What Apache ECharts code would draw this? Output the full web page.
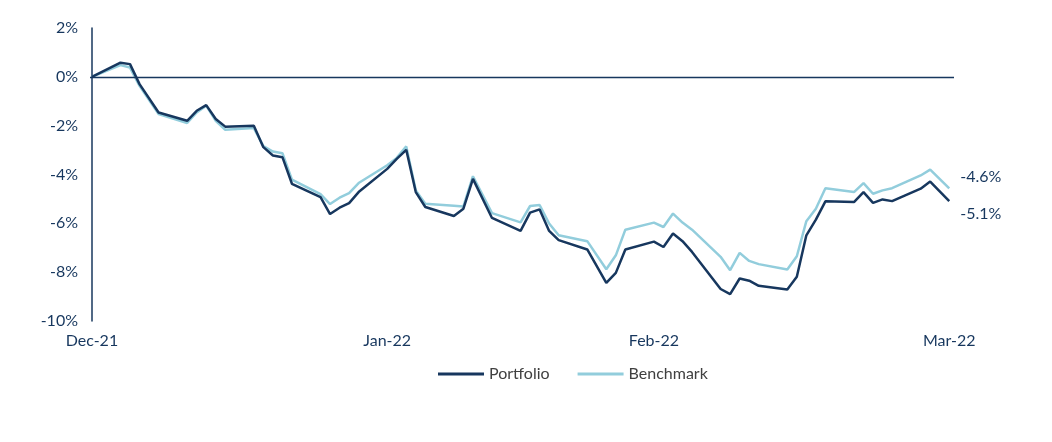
<!DOCTYPE html>
<html>
<head>
<meta charset="utf-8">
<title>Portfolio vs Benchmark</title>
<script src="https://cdn.jsdelivr.net/npm/echarts@6/dist/echarts.min.js"></script>
<style>
  html, body { margin: 0; padding: 0; background: #fff; }
  #chart { width: 1052px; height: 442px; }
</style>
</head>
<body>
<div id="chart"></div>
<script>
// trading days that show a vertex on the lines
const dates = [
  '2021-12-31', '2022-01-03', '2022-01-04', '2022-01-05', '2022-01-07',
  '2022-01-10', '2022-01-11', '2022-01-12', '2022-01-13', '2022-01-14',
  '2022-01-17', '2022-01-18', '2022-01-19', '2022-01-20', '2022-01-21',
  '2022-01-24', '2022-01-25', '2022-01-26', '2022-01-27', '2022-01-28',
  '2022-01-31', '2022-02-01', '2022-02-02', '2022-02-03', '2022-02-04',
  '2022-02-07', '2022-02-08', '2022-02-09', '2022-02-11', '2022-02-14',
  '2022-02-15', '2022-02-16', '2022-02-17', '2022-02-18', '2022-02-21',
  '2022-02-23', '2022-02-24', '2022-02-25', '2022-02-28', '2022-03-01',
  '2022-03-02', '2022-03-03', '2022-03-04', '2022-03-07', '2022-03-08',
  '2022-03-09', '2022-03-10', '2022-03-11', '2022-03-14', '2022-03-15',
  '2022-03-16', '2022-03-17', '2022-03-18', '2022-03-21', '2022-03-22',
  '2022-03-23', '2022-03-24', '2022-03-25', '2022-03-28', '2022-03-29',
  '2022-03-31'
];

// cumulative return, %
const portfolio = [
  0, 0.58, 0.52, -0.30, -1.46,
  -1.80, -1.39, -1.16, -1.73, -2.04,
  -2.00, -2.88, -3.22, -3.29, -4.38,
  -4.93, -5.62, -5.36, -5.17, -4.72,
  -3.77, -3.36, -2.99, -4.72, -5.33,
  -5.70, -5.40, -4.18, -5.78, -6.31,
  -5.56, -5.43, -6.31, -6.69, -7.07,
  -8.44, -8.03, -7.07, -6.75, -6.97,
  -6.42, -6.73, -7.17, -8.69, -8.90,
  -8.26, -8.35, -8.56, -8.71, -8.19,
  -6.49, -5.85, -5.10, -5.13, -4.72,
  -5.16, -5.02, -5.09, -4.58, -4.29,
  -5.09
];

const benchmark = [
  0, 0.48, 0.38, -0.37, -1.52,
  -1.89, -1.46, -1.18, -1.80, -2.17,
  -2.10, -2.84, -3.06, -3.13, -4.21,
  -4.80, -5.21, -4.95, -4.76, -4.35,
  -3.62, -3.32, -2.85, -4.65, -5.20,
  -5.28, -5.31, -4.07, -5.58, -5.96,
  -5.29, -5.25, -6.01, -6.49, -6.73,
  -7.88, -7.31, -6.26, -5.97, -6.15,
  -5.60, -5.97, -6.26, -7.37, -7.92,
  -7.21, -7.54, -7.67, -7.89, -7.35,
  -5.91, -5.40, -4.56, -4.72, -4.35,
  -4.79, -4.65, -4.56, -4.04, -3.80,
  -4.57
];

// month-end ticks on the date axis
const tickDates = ['2021-12-31', '2022-01-31', '2022-02-28', '2022-03-31'];
const tickLabels = ['Dec-21', 'Jan-22', 'Feb-22', 'Mar-22'];

const yTicks = { min: -10, max: 2, step: 2 };

const NAVY = '#17375e';
const LIGHT = '#92cddc';
const FONT = 'Lato';

// x is measured in calendar days from the first date
const DAY = 24 * 3600 * 1000;
const t0 = Date.parse(dates[0] + 'T00:00:00Z');
const dayNo = s => Math.round((Date.parse(s + 'T00:00:00Z') - t0) / DAY);
const tickDays = tickDates.map(dayNo);

function pairs(values) {
  return dates.map((d, i) => [dayNo(d), values[i]]);
}

const chart = echarts.init(document.getElementById('chart'), null, { renderer: 'canvas' });

chart.setOption({
  animation: false,
  textStyle: { fontFamily: FONT },
  grid: { left: 90, right: 98, top: 28, bottom: 121, containLabel: false },
  legend: {
    left: 433,
    top: 361,
    itemWidth: 46,
    itemHeight: 3,
    itemGap: 28,
    icon: 'rect',
    textStyle: { color: '#404040', fontSize: 16, fontFamily: FONT },
    data: ['Portfolio', 'Benchmark']
  },
  xAxis: {
    type: 'value',
    min: -0.2,
    max: tickDays[tickDays.length - 1] + 0.5,
    axisLine: { show: false },
    axisTick: { show: false },
    splitLine: { show: false },
    axisLabel: {
      customValues: tickDays,
      margin: 12,
      color: NAVY,
      fontSize: 16,
      fontFamily: FONT,
      formatter: function (v) {
        const i = tickDays.indexOf(Math.round(v));
        return i >= 0 ? tickLabels[i] : '';
      }
    }
  },
  yAxis: {
    type: 'value',
    min: yTicks.min,
    max: yTicks.max,
    interval: yTicks.step,
    axisLine: { show: true, lineStyle: { color: NAVY, width: 1.5 } },
    axisTick: { show: false },
    splitLine: { show: false },
    axisLabel: {
      margin: 12,
      color: NAVY,
      fontSize: 16,
      fontFamily: FONT,
      formatter: v => v + '%'
    }
  },
  series: [
    {
      name: 'Portfolio',
      type: 'line',
      data: pairs(portfolio),
      showSymbol: false,
      symbol: 'none',
      z: 3,
      lineStyle: { color: NAVY, width: 2.5 },
      itemStyle: { color: NAVY },
      endLabel: {
        show: true,
        offset: [3, 13],
        color: NAVY,
        fontSize: 16,
        fontFamily: FONT,
        formatter: p => p.value[1].toFixed(1) + '%'
      },
      markLine: {
        silent: true,
        symbol: 'none',
        label: { show: false },
        lineStyle: { color: NAVY, width: 1.3, type: 'solid' },
        data: [{ yAxis: 0 }]
      }
    },
    {
      name: 'Benchmark',
      type: 'line',
      data: pairs(benchmark),
      showSymbol: false,
      symbol: 'none',
      z: 2,
      lineStyle: { color: LIGHT, width: 2.5 },
      itemStyle: { color: LIGHT },
      endLabel: {
        show: true,
        offset: [3, -12],
        color: NAVY,
        fontSize: 16,
        fontFamily: FONT,
        formatter: p => p.value[1].toFixed(1) + '%'
      }
    }
  ]
});
</script>
</body>
</html>
